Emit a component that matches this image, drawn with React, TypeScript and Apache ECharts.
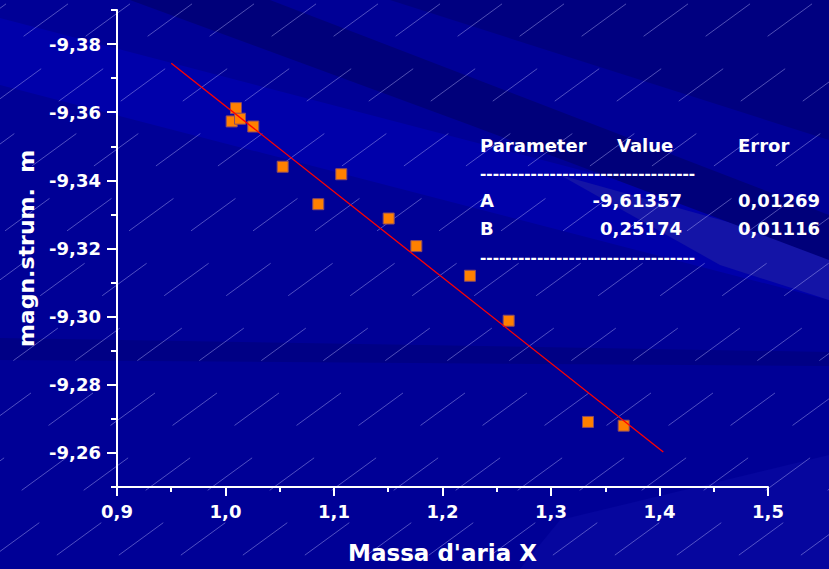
import React, { useEffect, useRef } from "react";
import * as echarts from "echarts";

// Measured points (Massa d'aria X, magnitudine strumentale m)
const airMass = [1.0097, 1.0057, 1.0134, 1.0256, 1.0527, 1.0855, 1.1067, 1.1504, 1.1759, 1.2253, 1.261, 1.3341, 1.367];
const magnitude = [-9.3612, -9.3573, -9.3581, -9.3558, -9.344, -9.333, -9.3418, -9.3288, -9.3207, -9.312, -9.2988, -9.2691, -9.268];

// Linear fit line endpoints
const fitX = [0.95, 1.4035];
const fitY = [-9.3744, -9.2603];

// Axis ticks
const yMajorTicks = [-9.38, -9.36, -9.34, -9.32, -9.3, -9.28, -9.26];

// Fit table
const tableHeader = ["Parameter", "Value", "Error"];
const paramNames = ["A", "B"];
const paramValues = ["-9,61357", "0,25174"];
const paramErrors = ["0,01269", "0,01116"];
const dashes = "----------------------------------";

const FONT = "DejaVu Sans";

export default function App() {
  const ref = useRef<HTMLDivElement>(null);
  useEffect(() => {
    document.body.style.margin = "0";
    if (!ref.current) return;
    const chart = echarts.init(ref.current, undefined, { renderer: "svg" });

    const graphics: any[] = [];
    // background decoration
    graphics.push({ type: "rect", z: -20, silent: true, shape: { x: 0, y: 0, width: 829, height: 569 }, style: { fill: "#000096" } });
    graphics.push({ type: "polygon", z: -19, silent: true, shape: { points: [[0, 18], [0, 85], [829, 300], [829, 235]] }, style: { fill: "#0000aa" } });
    graphics.push({ type: "polygon", z: -18, silent: true, shape: { points: [[560, 175], [829, 250], [829, 300], [720, 265]] }, style: { fill: "#1414a6" } });
    graphics.push({ type: "polygon", z: -18, silent: true, shape: { points: [[130, 0], [270, 0], [829, 215], [829, 260], [470, 125]] }, style: { fill: "#00007a" } });
    graphics.push({ type: "polygon", z: -18, silent: true, shape: { points: [[390, 0], [829, 0], [829, 140]] }, style: { fill: "#000080" } });
    graphics.push({ type: "polygon", z: -18, silent: true, shape: { points: [[0, 338], [829, 352], [829, 366], [0, 360]] }, style: { fill: "#000085" } });
    graphics.push({ type: "polygon", z: -18, silent: true, shape: { points: [[560, 520], [829, 455], [829, 569], [520, 569]] }, style: { fill: "#06069e" } });
    // hatch lines
    for (let k = 0; k < 30; k++) {
      const x0 = -900 + k * 62;
      graphics.push({
        type: "line", z: -10, silent: true,
        shape: { x1: x0, y1: 620, x2: x0 + 1000, y2: 620 - 730 },
        style: { stroke: "rgba(190,190,255,0.42)", lineWidth: 1, lineDash: [55, 55] },
      });
    }
    // table
    const ts = (text: string, x: number, y: number, align = "left") => ({
      type: "text", z: 50, x, y,
      style: { text, fill: "#ffffff", font: `bold 18px "${FONT}"`, align, verticalAlign: "middle" },
    });
    graphics.push(ts(tableHeader[0], 480, 145));
    graphics.push(ts(tableHeader[1], 617, 145));
    graphics.push(ts(tableHeader[2], 738, 145));
    graphics.push({ type: "text", z: 50, x: 480, y: 173, style: { text: dashes, fill: "#ffffff", font: `bold 19px "Liberation Sans"`, align: "left", verticalAlign: "middle" } });
    paramNames.forEach((p, i) => {
      const y = 200 + i * 28;
      graphics.push(ts(p, 480, y));
      graphics.push(ts(paramValues[i], 682, y, "right"));
      graphics.push(ts(paramErrors[i], 738, y));
    });
    graphics.push({ type: "text", z: 50, x: 480, y: 257, style: { text: dashes, fill: "#ffffff", font: `bold 19px "Liberation Sans"`, align: "left", verticalAlign: "middle" } });

    const white = { color: "#ffffff", width: 2 };
    const labelStyle = { color: "#ffffff", fontFamily: FONT, fontWeight: "bold" as const, fontSize: 18 };

    chart.setOption({
      animation: false,
      backgroundColor: "#000096",
      grid: { left: 117, top: 10, width: 651, height: 482, containLabel: false },
      graphic: graphics,
      xAxis: {
        type: "value", min: 0.9, max: 1.5, interval: 0.1,
        axisLine: { lineStyle: white },
        axisTick: { length: 9, lineStyle: white },
        minorTick: { show: true, splitNumber: 2, length: 5, lineStyle: white },
        splitLine: { show: false },
        axisLabel: { ...labelStyle, margin: 15, formatter: (v: number) => v.toFixed(1).replace(".", ",") },
        name: "Massa d'aria X", nameLocation: "middle", nameGap: 54,
        nameTextStyle: { color: "#ffffff", fontFamily: FONT, fontWeight: "bold", fontSize: 23 },
      },
      yAxis: [
        {
          type: "value", inverse: true, min: -9.39, max: -9.25, interval: 0.01, position: "left",
          axisLine: { show: true, lineStyle: white },
          axisTick: { show: true, length: 6, lineStyle: white },
          axisLabel: { show: false },
          splitLine: { show: false },
          name: "magn.strum.  m", nameLocation: "middle", nameGap: 80, nameRotate: 90,
          nameTextStyle: { color: "#ffffff", fontFamily: FONT, fontWeight: "bold", fontSize: 22 },
        },
        {
          type: "value", inverse: true, min: -9.39, max: -9.25, position: "left", offset: 0,
          axisLine: { show: false },
          axisTick: { show: true, length: 10, lineStyle: white, customValues: yMajorTicks },
          axisLabel: { ...labelStyle, margin: 16, customValues: yMajorTicks, formatter: (v: number) => v.toFixed(2).replace(".", ",") },
          splitLine: { show: false },
        },
      ],
      series: [
        {
          type: "scatter", yAxisIndex: 0, z: 3,
          symbol: "rect", symbolSize: 11,
          itemStyle: { color: "#ff8000", borderColor: "#8a4a66", borderWidth: 1, opacity: 1 },
          data: airMass.map((x, i) => [x, magnitude[i]]),
        },
        {
          type: "line", yAxisIndex: 0, z: 4, symbol: "none",
          lineStyle: { color: "#ff0000", width: 1.3 },
          data: fitX.map((x, i) => [x, fitY[i]]),
        },
      ],
    });
    return () => chart.dispose();
  }, []);
  return <div ref={ref} style={{ position: "fixed", left: 0, top: 0, width: 829, height: 569 }} />;
}
